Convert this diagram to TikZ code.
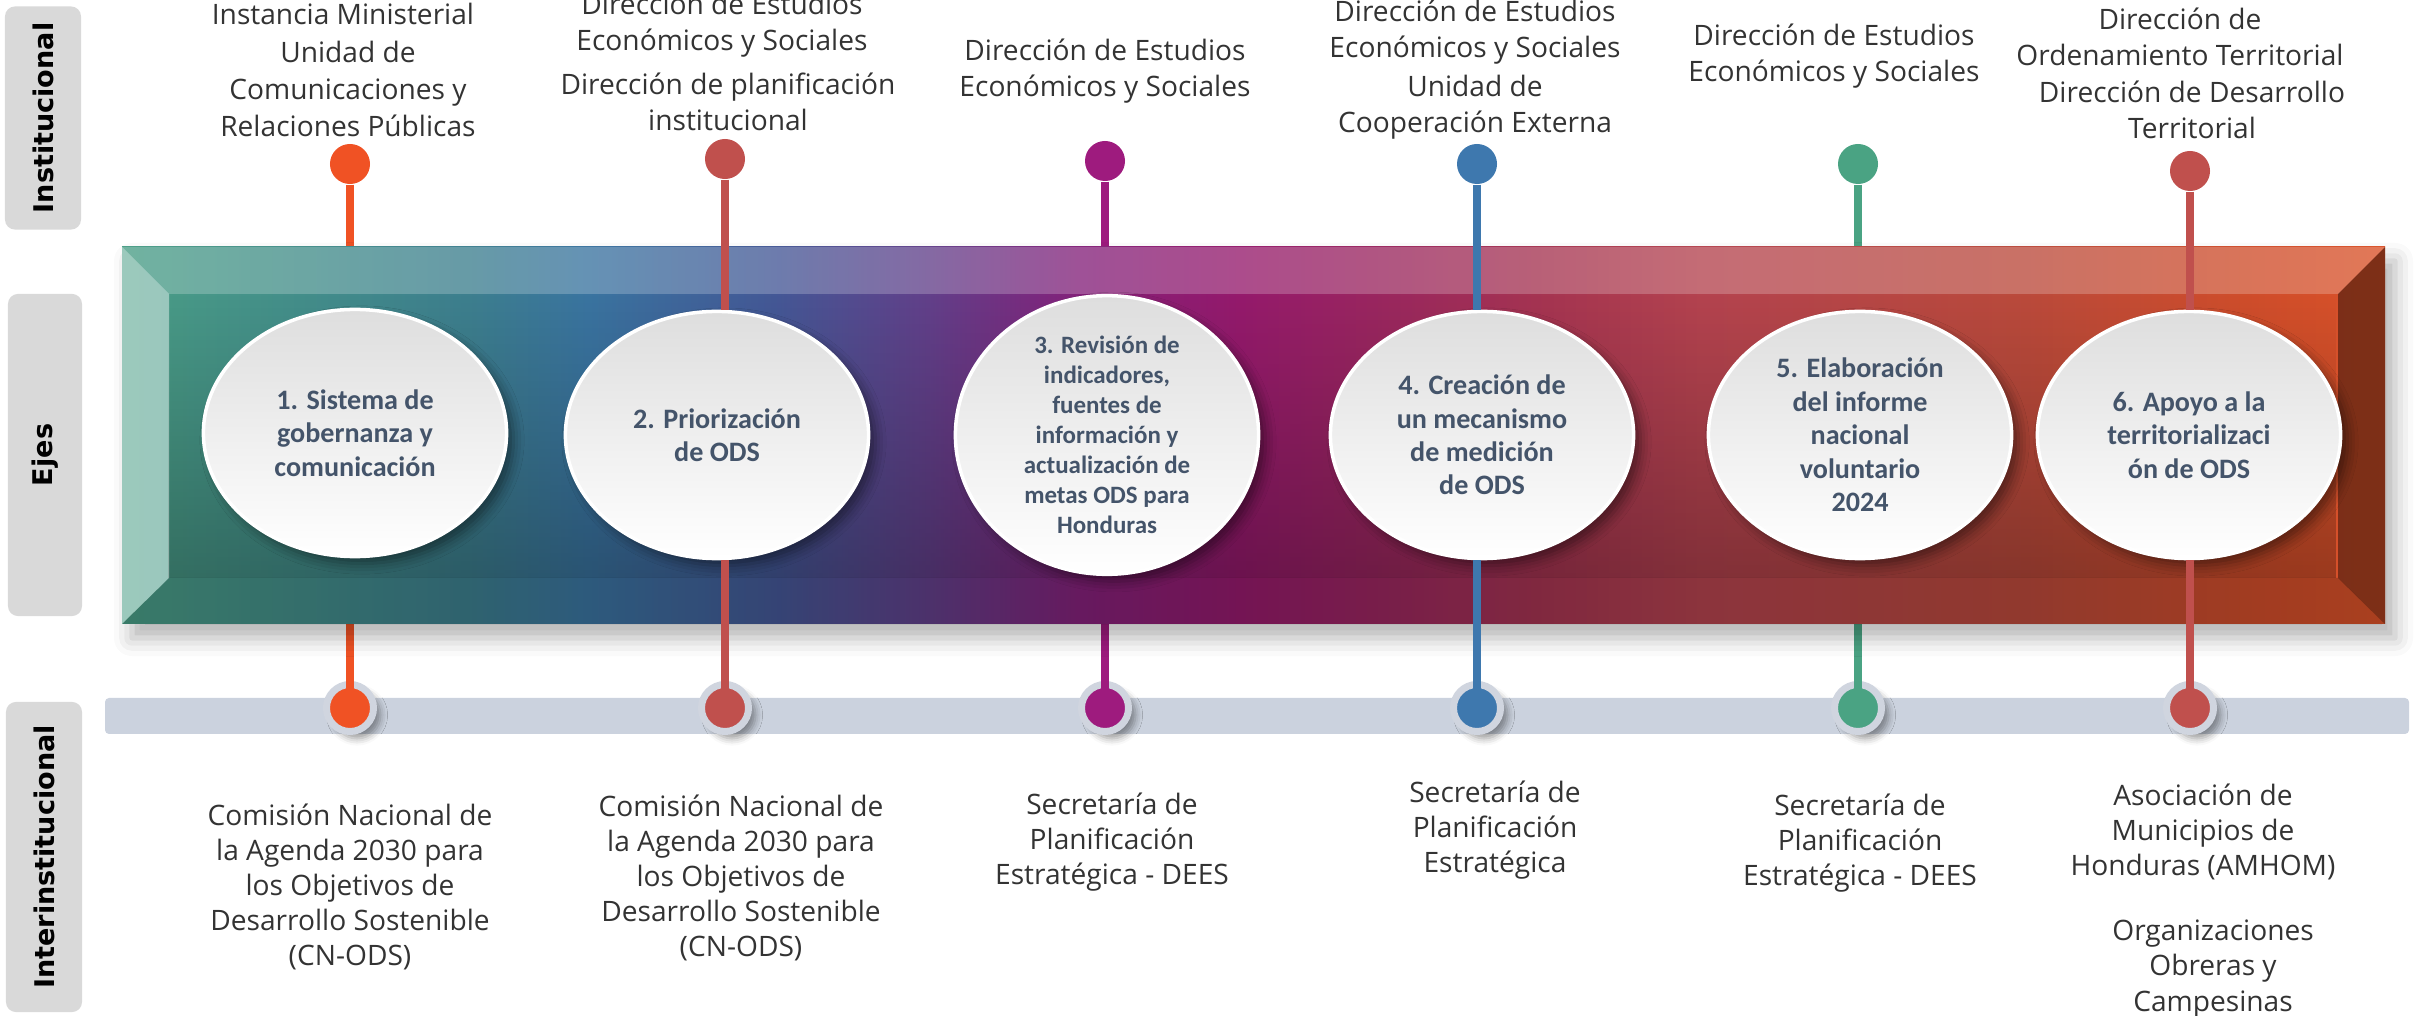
\documentclass[tikz,border=0pt]{standalone}
\usepackage{fontspec}
\setmainfont{Open Sans}
\newfontfamily\carlito{Carlito}
\newfontfamily\dejavu{DejaVu Sans}
\usetikzlibrary{shapes.geometric,shadows.blur,fadings}

\definecolor{ejeA}{HTML}{F05224}
\definecolor{ejeB}{HTML}{C0504D}
\definecolor{ejeC}{HTML}{9E1B7E}
\definecolor{ejeD}{HTML}{3E78AE}
\definecolor{ejeE}{HTML}{4AA383}
\definecolor{ejeF}{HTML}{C0504D}
\definecolor{textoeje}{HTML}{44546A}
\definecolor{barra}{HTML}{CBD2DE}
\definecolor{grisetiqueta}{HTML}{D9D9D9}
\definecolor{anillo}{HTML}{D0D5DF}
% colores de la caja
\definecolor{fA}{HTML}{4A9E86}
\definecolor{fB}{HTML}{3D7F8E}
\definecolor{fC}{HTML}{3A74A0}
\definecolor{fD}{HTML}{445896}
\definecolor{fE}{HTML}{62408A}
\definecolor{fF}{HTML}{84217A}
\definecolor{fG}{HTML}{951A6C}
\definecolor{fH}{HTML}{9B285E}
\definecolor{fI}{HTML}{A63551}
\definecolor{fJ}{HTML}{B4434F}
\definecolor{fK}{HTML}{BA4A3C}
\definecolor{fL}{HTML}{CF4D2B}
\definecolor{fM}{HTML}{DA5229}

\pgfdeclarehorizontalshading{ejes}{100bp}{color(0bp)=(fA); color(25bp)=(fA);
  color(32.6bp)=(fB); color(35.3bp)=(fC); color(39.4bp)=(fD); color(42.8bp)=(fE);
  color(46.2bp)=(fF); color(49.7bp)=(fG); color(53.1bp)=(fH); color(56.5bp)=(fI);
  color(59.9bp)=(fJ); color(66.8bp)=(fK); color(71.9bp)=(fL); color(75bp)=(fM);
  color(100bp)=(fM)}
\tikzfading[name=haciaabajo, top color=transparent!100, middle color=transparent!100, bottom color=transparent!0]

\begin{document}
\begin{tikzpicture}[x=0.01cm, y=0.01cm,
    plato/.style = {ellipse, minimum width=3.03cm, minimum height=2.47cm, inner sep=0pt,
      top color=black!13, bottom color=white, draw=white, line width=1pt,
      blur shadow={shadow xshift=2pt, shadow yshift=-2pt, shadow blur radius=3pt, shadow opacity=45},
      text=textoeje, align=center, font=\carlito\bfseries\fontsize{8}{9.5}\selectfont},
    punto/.style = {circle, minimum size=0.4cm, inner sep=0pt},
    puntob/.style = {circle, minimum size=0.47cm, inner sep=0pt, draw=anillo, line width=0.07cm,
      blur shadow={shadow xshift=2pt, shadow yshift=-2pt, shadow blur radius=2pt, shadow opacity=40}},
    tallo/.style = {line width=0.08cm},
    etiqueta/.style = {fill=grisetiqueta, rounded corners=0.1cm, rotate=90, inner sep=0pt,
      font=\dejavu\bfseries\fontsize{7.7}{9}\selectfont},
    texto/.style = {align=center, inner sep=0pt, text=black!80, font=\fontsize{8}{10.4}\selectfont},
    textob/.style = {align=center, inner sep=0pt, text=black!80, font=\fontsize{8}{10}\selectfont}]
  \useasboundingbox (0,0) rectangle (2427,-1016);

  % etiquetas laterales
  \node[etiqueta, minimum width=2.23cm, minimum height=0.76cm] (inst) at (43,-118) {Institucional};
  \node[etiqueta, minimum width=3.22cm, minimum height=0.74cm] (ejes) at (45,-455) {Ejes};
  \node[etiqueta, minimum width=3.10cm, minimum height=0.76cm] (inter) at (44,-857) {Interinstitucional};

  % barra inferior
  \fill[barra, rounded corners=0.04cm] (105,-698) rectangle (2409,-734);

  % puntos
  \node[puntob, fill=ejeA] (b1) at (350,-708) {};
  \node[puntob, fill=ejeB] (b2) at (725,-708) {};
  \node[puntob, fill=ejeC] (b3) at (1105,-708) {};
  \node[puntob, fill=ejeD] (b4) at (1477,-708) {};
  \node[puntob, fill=ejeE] (b5) at (1858,-708) {};
  \node[puntob, fill=ejeF] (b6) at (2190,-708) {};
  \node[punto, fill=ejeA] (t1) at (350,-164) {};
  \node[punto, fill=ejeB] (t2) at (725,-159) {};
  \node[punto, fill=ejeC] (t3) at (1105,-161) {};
  \node[punto, fill=ejeD] (t4) at (1477,-164) {};
  \node[punto, fill=ejeE] (t5) at (1858,-164) {};
  \node[punto, fill=ejeF] (t6) at (2190,-171) {};

  \coordinate (cajaNO) at (122,-247);
  \coordinate (cajaSE) at (2385,-624);
  \coordinate (intNO) at (169,-294);
  \coordinate (intSE) at (2338,-578);

  \draw[tallo, ejeA] (t1) -- (t1 |- cajaNO);
  \draw[tallo, ejeC] (t3) -- (t3 |- cajaNO);
  \draw[tallo, ejeE] (t5) -- (t5 |- cajaNO);
  \draw[tallo, ejeA, shorten >=0.15cm] (b1 |- cajaSE) -- (b1.center);
  \draw[tallo, ejeC, shorten >=0.15cm] (b3 |- cajaSE) -- (b3.center);
  \draw[tallo, ejeE, shorten >=0.15cm] (b5 |- cajaSE) -- (b5.center);

  % caja biselada
  \path[blur shadow={shadow xshift=0.1cm, shadow yshift=-0.14cm, shadow blur radius=0.18cm, shadow opacity=30}]
    (cajaNO) rectangle (cajaSE);
  \shade[shading=ejes] (cajaNO) rectangle (cajaSE);
  \fill[black, fill opacity=0.28, path fading=haciaabajo] (intNO) rectangle (intSE);
  \fill[white, fill opacity=0.22] (cajaNO) -- (cajaNO -| cajaSE) -- (intNO -| intSE) -- (intNO) -- cycle;
  \fill[white, fill opacity=0.45] (cajaNO) -- (intNO) -- (intNO |- intSE) -- (cajaNO |- cajaSE) -- cycle;
  \fill[black, fill opacity=0.22] (cajaNO |- cajaSE) -- (intNO |- intSE) -- (intSE) -- (cajaSE) -- cycle;
  \fill[black, fill opacity=0.42] (cajaNO -| cajaSE) -- (cajaSE) -- (intSE) -- (intNO -| intSE) -- cycle;

  % ejes
  \node[plato] (e1) at (355,-433) {1. Sistema de\\gobernanza y\\comunicación};
  \node[plato] (e2) at (717,-435) {2. Priorización\\de ODS};
  \node[plato, font=\carlito\bfseries\fontsize{7.1}{8.5}\selectfont] (e3) at (1107,-435)
    {3. Revisión de\\indicadores,\\fuentes de\\información y\\actualización de\\metas ODS para\\Honduras};
  \node[plato] (e4) at (1482,-435) {4. Creación de\\un mecanismo\\de medición\\de ODS};
  \node[plato] (e5) at (1860,-435) {5. Elaboración\\del informe\\nacional\\voluntario\\2024};
  \node[plato] (e6) at (2189,-435) {6. Apoyo a la\\territorializaci\\ón de ODS};

  \draw[tallo, ejeB] (t2) -- (t2 |- e2.north);
  \draw[tallo, ejeD] (t4) -- (t4 |- e4.north);
  \draw[tallo, ejeF] (t6) -- (t6 |- e6.north);
  \draw[tallo, ejeB, shorten >=0.15cm] (e2.south -| b2) -- (b2.center);
  \draw[tallo, ejeD, shorten >=0.15cm] (e4.south -| b4) -- (b4.center);
  \draw[tallo, ejeF, shorten >=0.15cm] (e6.south -| b6) -- (b6.center);

  % nivel institucional
  \node[texto] (i1a) at (343,-14) {Instancia Ministerial};
  \node[texto] (i1b) at (348,-89) {Unidad de\\Comunicaciones y\\Relaciones Públicas};
  \node[texto] (i2a) at (722,-25) {Dirección de Estudios\\Económicos y Sociales};
  \node[texto] (i2b) at (728,-102) {Dirección de planificación\\institucional};
  \node[texto] (i3a) at (1105,-71) {Dirección de Estudios\\Económicos y Sociales};
  \node[texto] (i4a) at (1475,-32) {Dirección de Estudios\\Económicos y Sociales};
  \node[texto] (i4b) at (1475,-107) {Unidad de\\Cooperación Externa};
  \node[texto] (i5a) at (1834,-56) {Dirección de Estudios\\Económicos y Sociales};
  \node[texto] (i6a) at (2180,-37) {Dirección de\\Ordenamiento Territorial};
  \node[texto] (i6b) at (2192,-110) {Dirección de Desarrollo\\Territorial};

  % nivel interinstitucional
  \node[textob] (x1) at (350,-887) {Comisión Nacional de\\la Agenda 2030 para\\los Objetivos de\\Desarrollo Sostenible\\(CN-ODS)};
  \node[textob] (x2) at (741,-878) {Comisión Nacional de\\la Agenda 2030 para\\los Objetivos de\\Desarrollo Sostenible\\(CN-ODS)};
  \node[textob] (x3) at (1112,-842) {Secretaría de\\Planificación\\Estratégica - DEES};
  \node[textob] (x4) at (1495,-830) {Secretaría de\\Planificación\\Estratégica};
  \node[textob] (x5) at (1860,-843) {Secretaría de\\Planificación\\Estratégica - DEES};
  \node[textob] (x6a) at (2203,-832) {Asociación de\\Municipios de\\Honduras (AMHOM)};
  \node[textob] (x6b) at (2213,-969) {Organizaciones\\Obreras y\\Campesinas};
\end{tikzpicture}
\end{document}
